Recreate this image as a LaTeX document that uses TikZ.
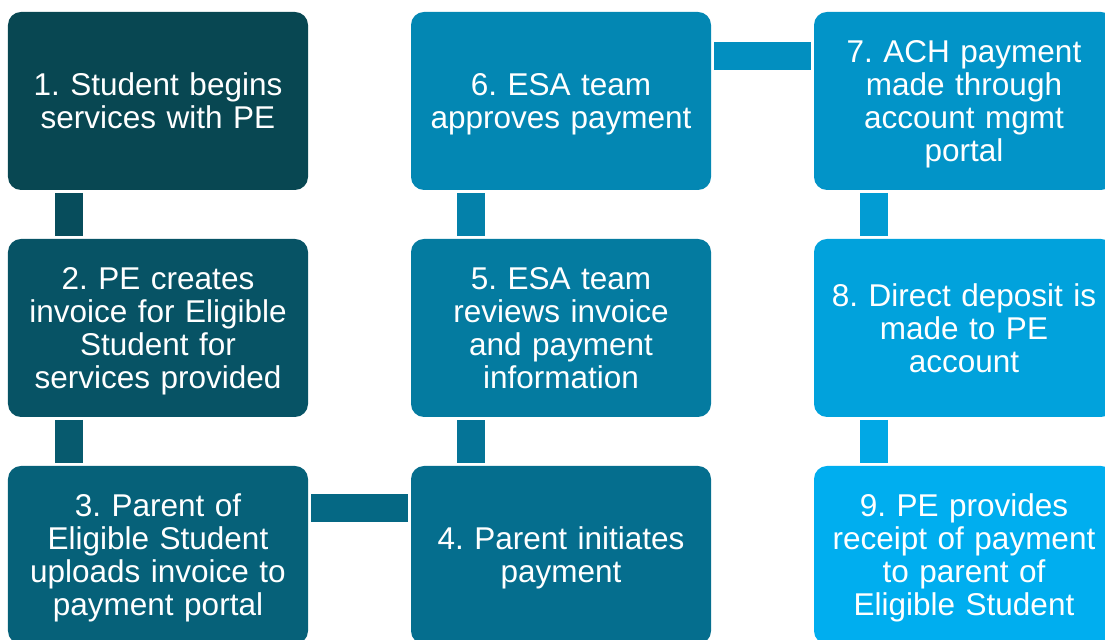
\documentclass[tikz,border=0pt]{standalone}
\usepackage{fontspec}
\setmainfont{Liberation Sans}
\usepackage{xcolor}
\definecolor{esadark}{RGB}{8,71,82}
\definecolor{esalight}{RGB}{0,174,239}
\usetikzlibrary{positioning,calc}
\frenchspacing

\begin{document}
\begin{tikzpicture}[x=1bp,y=1bp,
  box/.style={rounded corners=13bp,minimum width=300bp,minimum height=178bp,inner sep=0pt,outer sep=0pt,
    text width=296bp,align=center,text=white,font=\fontsize{31.5bp}{33bp}\selectfont},
  bar/.style={line width=28bp,shorten <=3bp,shorten >=3bp}]
  \useasboundingbox (0,0) rectangle (1105,640);
  \clip (0,0) rectangle (1105,640);
  % column 1
  \node[box,fill=esadark] (s1) at (158,539) {1. Student begins\\services with PE};
  \node[box,fill=esalight!12!esadark] (s2) at (158,312) {2. PE creates\\invoice for Eligible\\Student for\\\smash{services provided}};
  \node[box,fill=esalight!25!esadark] (s3) at (158,85) {3. Parent of\\Eligible Student\\uploads invoice to\\\smash{payment portal}};
  % column 2
  \node[box,fill=esalight!38!esadark] (s4) at (561,85) {4. Parent initiates\\\smash{payment}};
  \node[box,fill=esalight!50!esadark] (s5) at (561,312) {5. ESA team\\reviews invoice\\and payment\\information};
  \node[box,fill=esalight!62!esadark] (s6) at (561,539) {6. ESA team\\\smash{approves payment}};
  % column 3
  \node[box,fill=esalight!75!esadark] (s7) at (964,539) {7. ACH payment\\made through\\account mgmt\\\smash{portal}};
  \node[box,fill=esalight!88!esadark] (s8) at (964,312) {8. Direct deposit is\\made to PE\\account};
  \node[box,fill=esalight] (s9) at (964,85) {9. PE provides\\receipt of payment\\to parent of\\\smash{Eligible Student}};
  % links
  \draw[bar,esalight!6!esadark] ([xshift=61bp]s1.south west) -- ([xshift=61bp]s2.north west);
  \draw[bar,esalight!18!esadark] ([xshift=61bp]s2.south west) -- ([xshift=61bp]s3.north west);
  \draw[bar,esalight!32!esadark] ([yshift=-42.5bp]s3.north east) -- ([yshift=-42.5bp]s4.north west);
  \draw[bar,esalight!44!esadark] ([xshift=60bp]s4.north west) -- ([xshift=60bp]s5.south west);
  \draw[bar,esalight!56!esadark] ([xshift=60bp]s5.north west) -- ([xshift=60bp]s6.south west);
  \draw[bar,esalight!70!esadark] ([yshift=-44bp]s6.north east) -- ([yshift=-44bp]s7.north west);
  \draw[bar,esalight!82!esadark] ([xshift=60bp]s7.south west) -- ([xshift=60bp]s8.north west);
  \draw[bar,esalight!94!esadark] ([xshift=60bp]s8.south west) -- ([xshift=60bp]s9.north west);
\end{tikzpicture}
\end{document}
